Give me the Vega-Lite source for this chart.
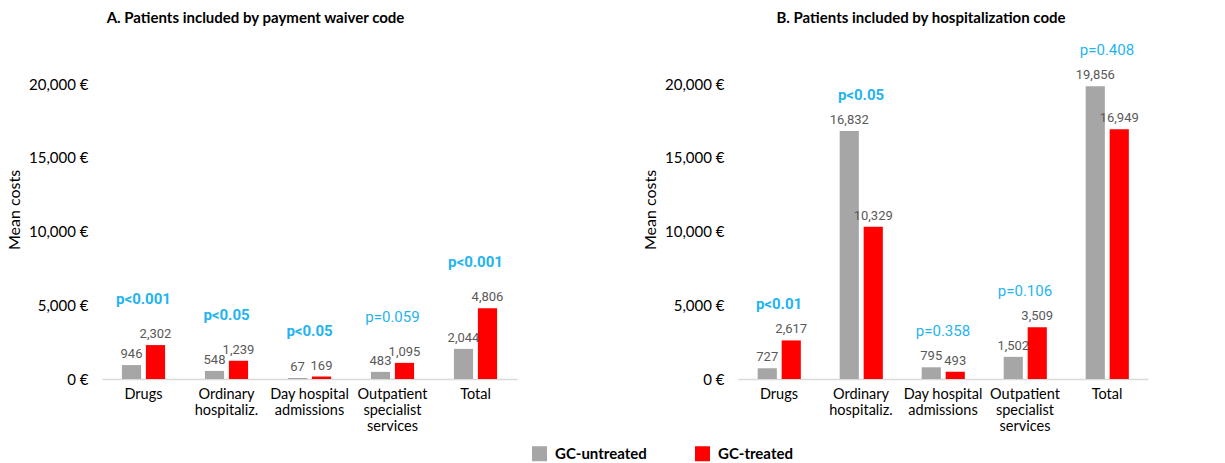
{
  "$schema": "https://vega.github.io/schema/vega-lite/v6.json",
  "padding": {"left": 6, "top": 11, "right": 10, "bottom": 2},
  "background": "white",
  "config": {
    "view": {"stroke": null},
    "font": "Lato",
    "concat": {"spacing": 125},
    "axisY": {"grid": false, "domain": false, "ticks": false, "labelFontSize": 15, "labelColor": "#000000", "labelPadding": 14, "titleFontSize": 16, "titleFontWeight": "normal", "titleColor": "#000000", "titlePadding": 6, "labelFont": "Lato", "titleFont": "Lato"},
    "axisX": {"domainColor": "#d9d9d9", "domainWidth": 1.5, "ticks": false, "labelAngle": 0, "labelFontSize": 14.5, "labelColor": "#000000", "labelPadding": 8, "labelLineHeight": 16, "labelFont": "Lato"},
    "legend": {"padding": 0}
  },
  "datasets": {
    "A": [
      {"category": "Drugs", "group": "GC-untreated", "value": 946, "p": "p<0.001", "sig": true},
      {"category": "Drugs", "group": "GC-treated", "value": 2302, "p": "p<0.001", "sig": true},
      {"category": "Ordinary hospitaliz.", "group": "GC-untreated", "value": 548, "p": "p<0.05", "sig": true},
      {"category": "Ordinary hospitaliz.", "group": "GC-treated", "value": 1239, "p": "p<0.05", "sig": true},
      {"category": "Day hospital admissions", "group": "GC-untreated", "value": 67, "p": "p<0.05", "sig": true},
      {"category": "Day hospital admissions", "group": "GC-treated", "value": 169, "p": "p<0.05", "sig": true},
      {"category": "Outpatient specialist services", "group": "GC-untreated", "value": 483, "p": "p=0.059", "sig": false},
      {"category": "Outpatient specialist services", "group": "GC-treated", "value": 1095, "p": "p=0.059", "sig": false},
      {"category": "Total", "group": "GC-untreated", "value": 2044, "p": "p<0.001", "sig": true},
      {"category": "Total", "group": "GC-treated", "value": 4806, "p": "p<0.001", "sig": true}
    ],
    "B": [
      {"category": "Drugs", "group": "GC-untreated", "value": 727, "p": "p<0.01", "sig": true},
      {"category": "Drugs", "group": "GC-treated", "value": 2617, "p": "p<0.01", "sig": true},
      {"category": "Ordinary hospitaliz.", "group": "GC-untreated", "value": 16832, "p": "p<0.05", "sig": true},
      {"category": "Ordinary hospitaliz.", "group": "GC-treated", "value": 10329, "p": "p<0.05", "sig": true},
      {"category": "Day hospital admissions", "group": "GC-untreated", "value": 795, "p": "p=0.358", "sig": false},
      {"category": "Day hospital admissions", "group": "GC-treated", "value": 493, "p": "p=0.358", "sig": false},
      {"category": "Outpatient specialist services", "group": "GC-untreated", "value": 1502, "p": "p=0.106", "sig": false},
      {"category": "Outpatient specialist services", "group": "GC-treated", "value": 3509, "p": "p=0.106", "sig": false},
      {"category": "Total", "group": "GC-untreated", "value": 19856, "p": "p=0.408", "sig": false},
      {"category": "Total", "group": "GC-treated", "value": 16949, "p": "p=0.408", "sig": false}
    ]
  },
  "hconcat": [
    {
      "width": 415,
      "height": 339,
      "title": {"text": "A. Patients included by payment waiver code", "fontSize": 15, "fontWeight": "bold", "font": "Lato", "color": "#000000", "offset": 14, "anchor": "middle", "dx": -54},
      "data": {"name": "A"},
      "encoding": {
        "x": {"field": "category", "type": "nominal", "sort": ["Drugs", "Ordinary hospitaliz.", "Day hospital admissions", "Outpatient specialist services", "Total"], "scale": {"paddingInner": 0.48, "paddingOuter": 0.24}, "axis": {"title": null, "labelExpr": "datum.label == 'Ordinary hospitaliz.' ? ['Ordinary','hospitaliz.'] : datum.label == 'Day hospital admissions' ? ['Day hospital','admissions'] : datum.label == 'Outpatient specialist services' ? ['Outpatient','specialist','services'] : datum.label"}}
      },
      "layer": [
        {
          "mark": {"type": "bar"},
          "encoding": {
            "xOffset": {"field": "group", "type": "nominal", "sort": ["GC-untreated", "GC-treated"], "scale": {"paddingInner": 0.2}},
            "y": {"field": "value", "type": "quantitative", "scale": {"domain": [0, 23000], "nice": false}, "axis": {"title": "Mean costs", "values": [0, 5000, 10000, 15000, 20000], "labelExpr": "format(datum.value, ',') + ' €'"}},
            "color": {"field": "group", "type": "nominal", "scale": {"domain": ["GC-untreated", "GC-treated"], "range": ["#a6a6a6", "#ff0000"]}, "legend": {"orient": "none", "legendX": 430, "legendY": 406, "direction": "horizontal", "title": null, "symbolType": "square", "symbolSize": 225, "symbolStrokeWidth": 0, "labelFontSize": 15, "labelFontWeight": "bold", "labelFont": "Lato", "labelColor": "#000000", "columnPadding": 48, "labelOffset": 8}}
          }
        },
        {
          "mark": {"type": "text", "baseline": "bottom", "dy": -4, "fontSize": 13, "color": "#595959", "font": "Roboto"},
          "encoding": {
            "xOffset": {"field": "group", "type": "nominal", "sort": ["GC-untreated", "GC-treated"], "scale": {"paddingInner": 0.2}},
            "y": {"field": "value", "type": "quantitative"},
            "text": {"field": "value", "type": "quantitative", "format": ","}
          }
        },
        {
          "transform": [{"filter": "datum.sig"}, {"aggregate": [{"op": "max", "field": "value", "as": "maxv"}], "groupby": ["category", "p"]}],
          "mark": {"type": "text", "dy": -46, "fontSize": 15, "fontWeight": "bold", "color": "#1fb4f0", "font": "Roboto"},
          "encoding": {"y": {"field": "maxv", "type": "quantitative"}, "text": {"field": "p"}}
        },
        {
          "transform": [{"filter": "!datum.sig"}, {"aggregate": [{"op": "max", "field": "value", "as": "maxv"}], "groupby": ["category", "p"]}],
          "mark": {"type": "text", "dy": -46, "fontSize": 15, "fontWeight": "normal", "color": "#1fb4f0", "font": "Roboto"},
          "encoding": {"y": {"field": "maxv", "type": "quantitative"}, "text": {"field": "p"}}
        }
      ]
    },
    {
      "width": 410,
      "height": 339,
      "title": {"text": "B. Patients included by hospitalization code", "fontSize": 15, "fontWeight": "bold", "font": "Lato", "color": "#000000", "offset": 14, "anchor": "middle", "dx": -22},
      "data": {"name": "B"},
      "encoding": {
        "x": {"field": "category", "type": "nominal", "sort": ["Drugs", "Ordinary hospitaliz.", "Day hospital admissions", "Outpatient specialist services", "Total"], "scale": {"paddingInner": 0.48, "paddingOuter": 0.24}, "axis": {"title": null, "labelExpr": "datum.label == 'Ordinary hospitaliz.' ? ['Ordinary','hospitaliz.'] : datum.label == 'Day hospital admissions' ? ['Day hospital','admissions'] : datum.label == 'Outpatient specialist services' ? ['Outpatient','specialist','services'] : datum.label"}}
      },
      "layer": [
        {
          "mark": {"type": "bar"},
          "encoding": {
            "xOffset": {"field": "group", "type": "nominal", "sort": ["GC-untreated", "GC-treated"], "scale": {"paddingInner": 0.2}},
            "y": {"field": "value", "type": "quantitative", "scale": {"domain": [0, 23000], "nice": false}, "axis": {"title": "Mean costs", "values": [0, 5000, 10000, 15000, 20000], "labelExpr": "format(datum.value, ',') + ' €'"}},
            "color": {"field": "group", "type": "nominal", "scale": {"domain": ["GC-untreated", "GC-treated"], "range": ["#a6a6a6", "#ff0000"]}}
          }
        },
        {
          "mark": {"type": "text", "baseline": "bottom", "dy": -4, "fontSize": 13, "color": "#595959", "font": "Roboto"},
          "encoding": {
            "xOffset": {"field": "group", "type": "nominal", "sort": ["GC-untreated", "GC-treated"], "scale": {"paddingInner": 0.2}},
            "y": {"field": "value", "type": "quantitative"},
            "text": {"field": "value", "type": "quantitative", "format": ","}
          }
        },
        {
          "transform": [{"filter": "datum.sig"}, {"aggregate": [{"op": "max", "field": "value", "as": "maxv"}], "groupby": ["category", "p"]}],
          "mark": {"type": "text", "dy": -36, "fontSize": 15, "fontWeight": "bold", "color": "#1fb4f0", "font": "Roboto"},
          "encoding": {"y": {"field": "maxv", "type": "quantitative"}, "text": {"field": "p"}}
        },
        {
          "transform": [{"filter": "!datum.sig"}, {"aggregate": [{"op": "max", "field": "value", "as": "maxv"}], "groupby": ["category", "p"]}],
          "mark": {"type": "text", "dy": -36, "fontSize": 15, "fontWeight": "normal", "color": "#1fb4f0", "font": "Roboto"},
          "encoding": {"y": {"field": "maxv", "type": "quantitative"}, "text": {"field": "p"}}
        }
      ]
    }
  ],
  "resolve": {"scale": {"color": "shared"}}
}
